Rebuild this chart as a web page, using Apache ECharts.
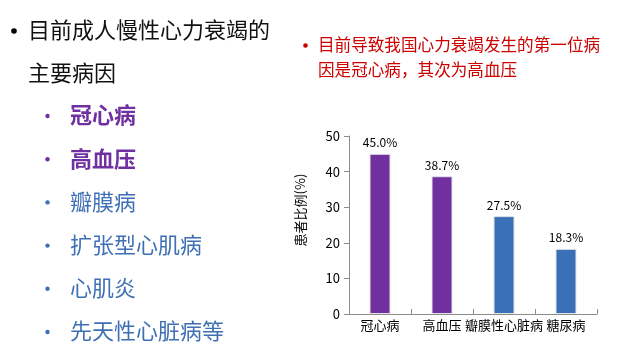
<!DOCTYPE html>
<html><head><meta charset="utf-8">
<script src="https://cdn.jsdelivr.net/npm/echarts@6/dist/echarts.min.js"></script>
<style>html,body{margin:0;padding:0;background:#fff}#c{width:629px;height:355px}</style>
</head><body><div id="c"></div>
<script>
const categories = ['冠心病', '高血压', '瓣膜性心脏病', '糖尿病'];
const values = [45.0, 38.7, 27.5, 18.3];
const barColors = ['#7030A0', '#7030A0', '#3A70B8', '#3A70B8'];
const yTicks = [0, 10, 20, 30, 40, 50];
const mainPoint = ['目前成人慢性心力衰竭的', '主要病因'];
const causes = ['冠心病', '高血压', '瓣膜病', '扩张型心肌病', '心肌炎', '先天性心脏病等'];
const causeColors = ['#7030A0', '#7030A0', '#3F70B5', '#3F70B5', '#3F70B5', '#3F70B5'];
const causeBold = [true, true, false, false, false, false];
const note = ['目前导致我国心力衰竭发生的第一位病', '因是冠心病，其次为高血压'];
const yName = '患者比例(%)';

const FF = '"Noto Sans CJK SC", sans-serif';
const chart = echarts.init(document.getElementById('c'));
const g = [];
g.push({type:'circle', shape:{cx:14, cy:31, r:2.8}, style:{fill:'#000'}});
mainPoint.forEach((t,i)=>{
  g.push({type:'text', x:28, y:30 + i*43, style:{text:t, font:'22px ' + FF, fill:'#111', textVerticalAlign:'middle'}});
});
causes.forEach((t,i)=>{
  const y = 115 + i*43.2;
  g.push({type:'circle', shape:{cx:47.5, cy:y+1, r:2.2}, style:{fill:causeColors[i]}});
  g.push({type:'text', x:70, y:y, style:{text:t, font:(causeBold[i]?'bold ':'') + '22px ' + FF, fill:causeColors[i], textVerticalAlign:'middle'}});
});
g.push({type:'circle', shape:{cx:305.5, cy:45.5, r:2.3}, style:{fill:'#CC0000'}});
note.forEach((t,i)=>{
  g.push({type:'text', x:318, y:45 + i*25, style:{text:t, font:'16.6px ' + FF, fill:'#CC0000', textVerticalAlign:'middle'}});
});
g.push({type:'text', x:300, y:210, rotation:Math.PI/2, style:{text:yName, font:'13px ' + FF, fill:'#000', textAlign:'center', textVerticalAlign:'middle'}});

chart.setOption({
  animation:false,
  textStyle:{fontFamily:FF},
  graphic:g,
  grid:{left:349, right:32, top:136, bottom:41, containLabel:false},
  xAxis:{type:'category', data:categories,
    axisLine:{lineStyle:{color:'#8C8C8C'}},
    axisTick:{show:true, inside:true, length:5, lineStyle:{color:'#8C8C8C'}},
    axisLabel:{interval:0, color:'#000', fontSize:13, margin:5}},
  yAxis:{type:'value', min:yTicks[0], max:yTicks[yTicks.length-1], interval:10,
    axisLine:{show:true, lineStyle:{color:'#8C8C8C'}},
    axisTick:{show:true, length:5, lineStyle:{color:'#8C8C8C'}},
    splitLine:{show:false},
    axisLabel:{color:'#000', fontSize:13, margin:9}},
  series:[{type:'bar', barWidth:21,
    data:values.map((v,i)=>({value:v, itemStyle:{color:barColors[i], borderColor:'#E4E4E4', borderWidth:1}})),
    label:{show:true, position:'top', distance:5, color:'#000', fontSize:12,
      formatter:p=>p.value.toFixed(1)+'%'}}]
});
</script></body></html>
